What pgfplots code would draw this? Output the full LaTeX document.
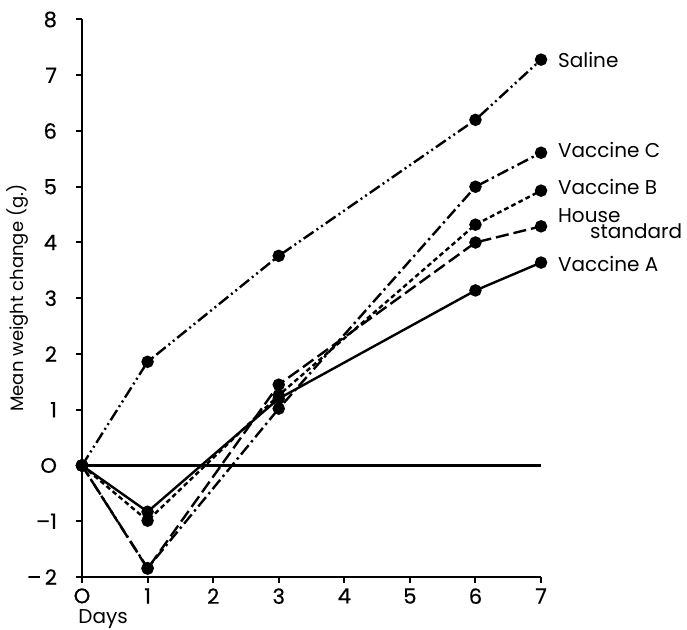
\documentclass[border=0pt]{standalone}
\usepackage{pgfplots}
\pgfplotsset{compat=1.18}
\usepackage{fontspec}
\setmainfont{Poppins}
\newfontfamily\boldish[FakeBold=0.6]{Poppins}
\begin{document}
\begin{tikzpicture}
\useasboundingbox (-41pt,-26.5pt) rectangle (302.5pt,288.5pt);
\begin{axis}[
  at={(0,0)}, anchor=south west,
  x=32.79pt, y=27.875pt,
  xmin=0, xmax=7, ymin=-2, ymax=8,
  axis x line*=bottom, axis y line*=left,
  axis line style={line width=1.2pt, -},
  xtick={0,1,2,3,4,5,6,7},
  xticklabels={O,1,2,3,4,5,6,7},
  ytick={-2,-1,0,1,2,3,4,5,6,7,8},
  yticklabels={–\,2,–1,O,1,2,3,4,5,6,7,8},
  tick align=outside,
  major tick length=3pt,
  tick style={line width=1pt, black},
  ticklabel style={font=\boldish\fontsize{10.5}{12}\selectfont},
  yticklabel style={xshift=-6pt},
  xticklabel style={inner sep=1pt, yshift=-1.5pt},
  clip=false,
  every axis plot/.append style={line width=1.2pt, black, mark=*, mark size=2.5pt, mark options={solid}},
]
\addplot[mark=none, solid] coordinates {(0,0) (7,0)};
% Saline
\addplot[dash pattern=on 6pt off 1.8pt on 1pt off 1.8pt on 1pt off 1.8pt] coordinates {(0,0) (1,1.86) (3,3.76) (6,6.2) (7,7.28)};
% Vaccine C
\addplot[dash pattern=on 6pt off 2pt on 1.2pt off 2pt] coordinates {(0,0) (1,-1.84) (3,1.02) (6,5.0) (7,5.61)};
% Vaccine B
\addplot[dash pattern=on 2.4pt off 1.6pt] coordinates {(0,0) (1,-0.99) (3,1.26) (6,4.32) (7,4.93)};
% House standard
\addplot[dash pattern=on 6.5pt off 2.5pt] coordinates {(0,0) (1,-1.85) (3,1.45) (6,4.0) (7,4.29)};
% Vaccine A
\addplot[solid] coordinates {(0,0) (1,-0.83) (3,1.2) (6,3.14) (7,3.64)};
\node[anchor=west, font=\fontsize{10}{12}\selectfont] at (axis cs:7,7.28) [xshift=5pt] {Saline};
\node[anchor=west, font=\fontsize{10}{12}\selectfont] at (axis cs:7,5.66) [xshift=5pt] {Vaccine C};
\node[anchor=west, font=\fontsize{10}{12}\selectfont] at (axis cs:7,5.0) [xshift=5pt] {Vaccine B};
\node[anchor=west, font=\fontsize{10}{12}\selectfont] at (axis cs:7,4.48) [xshift=5pt] {House};
\node[anchor=west, font=\fontsize{10}{12}\selectfont] at (axis cs:7,4.2) [xshift=21pt] {standard};
\node[anchor=west, font=\fontsize{10}{12}\selectfont] at (axis cs:7,3.62) [xshift=5pt] {Vaccine A};
\node[anchor=north west, font=\fontsize{10}{12}\selectfont, inner sep=0pt] at ([xshift=-2pt, yshift=-16pt]axis cs:0,-2) {Days};
\node[rotate=90, font=\fontsize{9}{11}\selectfont] at ([xshift=-32pt]axis cs:0,3) {Mean weight change (g.)};
\end{axis}
\end{tikzpicture}
\end{document}
